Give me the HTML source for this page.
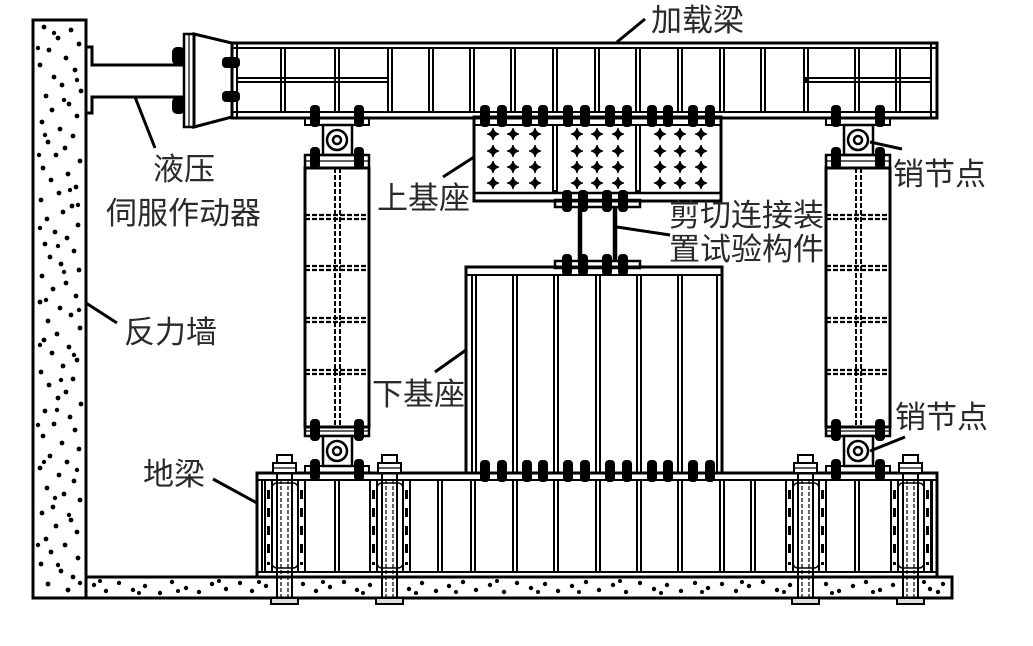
<!DOCTYPE html>
<html><head><meta charset="utf-8"><style>
html,body{margin:0;padding:0;background:#fff;}
svg{display:block;}
text{font-family:"Liberation Sans","Noto Sans CJK SC",sans-serif;font-size:31px;fill:#2a2a2a;}
</style></head><body>
<svg width="1033" height="646" viewBox="0 0 1033 646" xmlns="http://www.w3.org/2000/svg">
<defs>
<rect id="b" x="-5" y="-11" width="10" height="22" rx="4" fill="#000"/>
<path id="st" d="M0,-6 Q1,-1 6,0 Q1,1 0,6 Q-1,1 -6,0 Q-1,-1 0,-6Z" fill="#000" stroke="#000" stroke-width="1"/>
</defs>

<!-- Reaction wall and slab -->
<g fill="none" stroke="#000" stroke-width="3">
<rect x="33" y="20" width="53" height="578"/>
<rect x="86" y="577" width="866" height="21"/>
</g>
<g fill="#000">
<circle cx="44" cy="27" r="2.4"/><circle cx="71" cy="30" r="2.4"/><circle cx="58" cy="38" r="2.4"/><circle cx="79" cy="44" r="2.4"/><circle cx="49" cy="50" r="2.4"/><circle cx="66" cy="58" r="2.4"/><circle cx="40" cy="65" r="2.4"/><circle cx="75" cy="70" r="2.4"/><circle cx="54" cy="77" r="2.4"/><circle cx="62" cy="85" r="2.4"/><circle cx="81" cy="91" r="2.4"/><circle cx="46" cy="96" r="2.4"/><circle cx="69" cy="104" r="2.4"/><circle cx="52" cy="110" r="2.4"/><circle cx="77" cy="116" r="2.4"/><circle cx="42" cy="122" r="2.4"/><circle cx="60" cy="129" r="2.4"/><circle cx="73" cy="136" r="2.4"/><circle cx="48" cy="142" r="2.4"/><circle cx="65" cy="148" r="2.4"/><circle cx="56" cy="155" r="2.4"/><circle cx="80" cy="161" r="2.4"/><circle cx="43" cy="168" r="2.4"/><circle cx="68" cy="174" r="2.4"/><circle cx="51" cy="180" r="2.4"/><circle cx="76" cy="187" r="2.4"/><circle cx="59" cy="193" r="2.4"/><circle cx="41" cy="200" r="2.4"/><circle cx="72" cy="206" r="2.4"/><circle cx="63" cy="212" r="2.4"/><circle cx="47" cy="219" r="2.4"/><circle cx="78" cy="225" r="2.4"/><circle cx="55" cy="232" r="2.4"/><circle cx="67" cy="238" r="2.4"/><circle cx="45" cy="244" r="2.4"/><circle cx="74" cy="251" r="2.4"/><circle cx="50" cy="257" r="2.4"/><circle cx="61" cy="264" r="2.4"/><circle cx="79" cy="270" r="2.4"/><circle cx="42" cy="276" r="2.4"/>
<circle cx="66" cy="283" r="2.4"/><circle cx="53" cy="289" r="2.4"/><circle cx="76" cy="296" r="2.4"/><circle cx="40" cy="302" r="2.4"/><circle cx="60" cy="308" r="2.4"/><circle cx="71" cy="315" r="2.4"/><circle cx="48" cy="321" r="2.4"/><circle cx="80" cy="328" r="2.4"/><circle cx="57" cy="334" r="2.4"/><circle cx="44" cy="340" r="2.4"/><circle cx="69" cy="347" r="2.4"/><circle cx="52" cy="353" r="2.4"/><circle cx="77" cy="360" r="2.4"/><circle cx="63" cy="366" r="2.4"/><circle cx="41" cy="372" r="2.4"/><circle cx="73" cy="379" r="2.4"/><circle cx="49" cy="385" r="2.4"/><circle cx="66" cy="392" r="2.4"/><circle cx="58" cy="398" r="2.4"/><circle cx="81" cy="404" r="2.4"/><circle cx="45" cy="411" r="2.4"/><circle cx="70" cy="417" r="2.4"/><circle cx="54" cy="424" r="2.4"/><circle cx="75" cy="430" r="2.4"/><circle cx="43" cy="436" r="2.4"/><circle cx="62" cy="443" r="2.4"/><circle cx="79" cy="449" r="2.4"/><circle cx="50" cy="456" r="2.4"/><circle cx="67" cy="462" r="2.4"/><circle cx="40" cy="468" r="2.4"/><circle cx="59" cy="475" r="2.4"/><circle cx="74" cy="481" r="2.4"/><circle cx="47" cy="488" r="2.4"/><circle cx="64" cy="494" r="2.4"/><circle cx="80" cy="500" r="2.4"/><circle cx="53" cy="507" r="2.4"/><circle cx="42" cy="513" r="2.4"/><circle cx="71" cy="520" r="2.4"/><circle cx="56" cy="526" r="2.4"/><circle cx="77" cy="532" r="2.4"/><circle cx="46" cy="539" r="2.4"/><circle cx="65" cy="545" r="2.4"/><circle cx="51" cy="552" r="2.4"/><circle cx="78" cy="558" r="2.4"/><circle cx="41" cy="564" r="2.4"/><circle cx="61" cy="571" r="2.4"/><circle cx="73" cy="577" r="2.4"/><circle cx="48" cy="584" r="2.4"/><circle cx="68" cy="590" r="2.4"/>
<circle cx="54" cy="33" r="2.2"/><circle cx="77" cy="80" r="2.2"/><circle cx="45" cy="135" r="2.2"/><circle cx="70" cy="190" r="2.2"/><circle cx="58" cy="246" r="2.2"/><circle cx="46" cy="300" r="2.2"/><circle cx="74" cy="355" r="2.2"/><circle cx="57" cy="410" r="2.2"/><circle cx="44" cy="462" r="2.2"/><circle cx="69" cy="515" r="2.2"/><circle cx="58" cy="565" r="2.2"/>
<circle cx="38" cy="48" r="2.2"/><circle cx="64" cy="100" r="2.2"/><circle cx="39" cy="155" r="2.2"/><circle cx="78" cy="205" r="2.2"/><circle cx="40" cy="228" r="2.2"/><circle cx="64" cy="272" r="2.2"/><circle cx="79" cy="310" r="2.2"/><circle cx="40" cy="345" r="2.2"/><circle cx="61" cy="380" r="2.2"/><circle cx="38" cy="425" r="2.2"/><circle cx="77" cy="470" r="2.2"/><circle cx="55" cy="498" r="2.2"/><circle cx="38" cy="545" r="2.2"/><circle cx="80" cy="583" r="2.2"/>
<!-- slab dots -->
<circle cx="94" cy="585" r="2.2"/><circle cx="106" cy="591" r="2.2"/><circle cx="119" cy="583" r="2.2"/><circle cx="133" cy="590" r="2.2"/><circle cx="145" cy="586" r="2.2"/><circle cx="160" cy="593" r="2.2"/><circle cx="172" cy="582" r="2.2"/><circle cx="186" cy="588" r="2.2"/><circle cx="199" cy="592" r="2.2"/><circle cx="212" cy="584" r="2.2"/><circle cx="226" cy="589" r="2.2"/><circle cx="240" cy="583" r="2.2"/><circle cx="252" cy="591" r="2.2"/><circle cx="266" cy="586" r="2.2"/><circle cx="303" cy="584" r="2.2"/><circle cx="316" cy="591" r="2.2"/><circle cx="330" cy="587" r="2.2"/><circle cx="344" cy="582" r="2.2"/><circle cx="357" cy="590" r="2.2"/><circle cx="370" cy="585" r="2.2"/><circle cx="409" cy="589" r="2.2"/><circle cx="422" cy="583" r="2.2"/><circle cx="436" cy="591" r="2.2"/><circle cx="449" cy="586" r="2.2"/><circle cx="463" cy="582" r="2.2"/><circle cx="476" cy="590" r="2.2"/><circle cx="490" cy="585" r="2.2"/><circle cx="504" cy="592" r="2.2"/><circle cx="517" cy="583" r="2.2"/><circle cx="531" cy="588" r="2.2"/><circle cx="545" cy="584" r="2.2"/><circle cx="558" cy="591" r="2.2"/><circle cx="572" cy="586" r="2.2"/><circle cx="586" cy="582" r="2.2"/><circle cx="599" cy="590" r="2.2"/><circle cx="613" cy="585" r="2.2"/><circle cx="626" cy="592" r="2.2"/><circle cx="640" cy="583" r="2.2"/><circle cx="654" cy="589" r="2.2"/><circle cx="667" cy="585" r="2.2"/><circle cx="681" cy="591" r="2.2"/><circle cx="695" cy="583" r="2.2"/><circle cx="708" cy="588" r="2.2"/><circle cx="722" cy="584" r="2.2"/><circle cx="736" cy="591" r="2.2"/><circle cx="749" cy="586" r="2.2"/><circle cx="763" cy="582" r="2.2"/><circle cx="777" cy="590" r="2.2"/><circle cx="790" cy="585" r="2.2"/><circle cx="826" cy="584" r="2.2"/><circle cx="839" cy="591" r="2.2"/><circle cx="853" cy="586" r="2.2"/><circle cx="866" cy="582" r="2.2"/><circle cx="880" cy="590" r="2.2"/><circle cx="893" cy="585" r="2.2"/><circle cx="930" cy="589" r="2.2"/><circle cx="943" cy="584" r="2.2"/><circle cx="938" cy="592" r="2.2"/>
<circle cx="100" cy="581" r="2"/><circle cx="139" cy="593" r="2"/><circle cx="178" cy="591" r="2"/><circle cx="219" cy="581" r="2"/><circle cx="259" cy="582" r="2"/><circle cx="323" cy="582" r="2"/><circle cx="363" cy="593" r="2"/><circle cx="416" cy="593" r="2"/><circle cx="456" cy="592" r="2"/><circle cx="497" cy="581" r="2"/><circle cx="538" cy="592" r="2"/><circle cx="579" cy="592" r="2"/><circle cx="620" cy="581" r="2"/><circle cx="661" cy="593" r="2"/><circle cx="702" cy="592" r="2"/><circle cx="742" cy="582" r="2"/><circle cx="784" cy="592" r="2"/><circle cx="832" cy="593" r="2"/><circle cx="873" cy="592" r="2"/><circle cx="924" cy="582" r="2"/>
</g>

<!-- Actuator -->
<g fill="none" stroke="#000" stroke-width="3">
<path d="M86,47 H92 V65 H184 M184,97 H92 V113 H86"/>
<rect x="184" y="34" width="10" height="93" stroke-width="2.5"/>
<line x1="189" y1="34" x2="189" y2="127" stroke-width="1.2"/>
<polygon points="194,34 232,43 232,117 194,127"/>
</g>
<rect x="172" y="47" width="13" height="18" rx="5" fill="#000"/>
<rect x="172" y="97" width="13" height="17" rx="5" fill="#000"/>
<rect x="222" y="57" width="18" height="11" rx="4" fill="#000"/>
<rect x="222" y="91" width="18" height="11" rx="4" fill="#000"/>

<!-- Loading beam -->
<g fill="none" stroke="#000">
<rect x="232" y="43" width="705" height="75" stroke-width="3"/>
<line x1="232" y1="48" x2="937" y2="48" stroke-width="2"/>
<line x1="232" y1="112" x2="937" y2="112" stroke-width="2"/>
<line x1="237" y1="43" x2="237" y2="118" stroke-width="2"/>
<line x1="931" y1="43" x2="931" y2="118" stroke-width="2"/>
<rect x="237" y="78" width="151" height="4" stroke-width="2"/>
<rect x="806" y="78" width="125" height="4" stroke-width="2"/>
<g stroke-width="2">
<rect x="281" y="48" width="4" height="64"/><rect x="335" y="48" width="4" height="64"/><rect x="388" y="48" width="4" height="64"/><rect x="429" y="48" width="4" height="64"/><rect x="470" y="48" width="4" height="64"/><rect x="511" y="48" width="4" height="64"/><rect x="553" y="48" width="4" height="64"/><rect x="595" y="48" width="4" height="64"/><rect x="636" y="48" width="4" height="64"/><rect x="678" y="48" width="4" height="64"/><rect x="720" y="48" width="4" height="64"/><rect x="761" y="48" width="4" height="64"/><rect x="804" y="48" width="4" height="64"/><rect x="855" y="48" width="4" height="64"/><rect x="896" y="48" width="4" height="64"/>
</g>
</g>

<!-- Bolts -->
<g>
<use href="#b" x="315" y="116"/><use href="#b" x="359" y="116"/><use href="#b" x="836" y="116"/><use href="#b" x="880" y="116"/>
<use href="#b" x="315" y="158"/><use href="#b" x="359" y="158"/><use href="#b" x="836" y="158"/><use href="#b" x="880" y="158"/>
<use href="#b" x="315" y="430"/><use href="#b" x="359" y="430"/><use href="#b" x="836" y="430"/><use href="#b" x="880" y="430"/>
<use href="#b" x="315" y="470"/><use href="#b" x="359" y="470"/><use href="#b" x="836" y="470"/><use href="#b" x="880" y="470"/>
<use href="#b" x="485" y="116"/><use href="#b" x="502" y="116"/><use href="#b" x="527" y="116"/><use href="#b" x="543" y="116"/><use href="#b" x="568" y="116"/><use href="#b" x="585" y="116"/><use href="#b" x="610" y="116"/><use href="#b" x="627" y="116"/><use href="#b" x="652" y="116"/><use href="#b" x="668" y="116"/><use href="#b" x="693" y="116"/><use href="#b" x="710" y="116"/>
<use href="#b" x="567" y="201"/><use href="#b" x="583" y="201"/><use href="#b" x="607" y="201"/><use href="#b" x="623" y="201"/>
<use href="#b" x="567" y="265"/><use href="#b" x="583" y="265"/><use href="#b" x="607" y="265"/><use href="#b" x="623" y="265"/>
<use href="#b" x="485" y="471"/><use href="#b" x="502" y="471"/><use href="#b" x="527" y="471"/><use href="#b" x="543" y="471"/><use href="#b" x="568" y="471"/><use href="#b" x="585" y="471"/><use href="#b" x="610" y="471"/><use href="#b" x="627" y="471"/><use href="#b" x="652" y="471"/><use href="#b" x="668" y="471"/><use href="#b" x="693" y="471"/><use href="#b" x="710" y="471"/>
</g>

<!-- Columns and pins -->
<g fill="none" stroke="#000">
<g id="colL">
<rect x="305" y="118" width="64" height="7" stroke-width="2"/>
<rect x="323" y="125" width="29" height="30" stroke-width="2.5" fill="#fff"/>
<circle cx="337" cy="140" r="10" stroke-width="2.5"/>
<circle cx="337" cy="140" r="4" stroke-width="2.5"/>
<rect x="305" y="155" width="64" height="13" stroke-width="2.5"/>
<line x1="305" y1="161" x2="369" y2="161" stroke-width="1.2"/>
<rect x="305" y="168" width="64" height="259" stroke-width="3"/>
<line x1="335" y1="168" x2="335" y2="427" stroke-width="2" stroke-dasharray="5 2"/>
<line x1="340" y1="168" x2="340" y2="427" stroke-width="2" stroke-dasharray="5 2"/>
<g stroke-width="2.2" stroke-dasharray="5 2">
<line x1="305" y1="215" x2="369" y2="215"/><line x1="305" y1="219" x2="369" y2="219"/>
<line x1="305" y1="266" x2="369" y2="266"/><line x1="305" y1="270" x2="369" y2="270"/>
<line x1="305" y1="318" x2="369" y2="318"/><line x1="305" y1="322" x2="369" y2="322"/>
<line x1="305" y1="370" x2="369" y2="370"/><line x1="305" y1="374" x2="369" y2="374"/>
</g>
<rect x="305" y="427" width="64" height="9" stroke-width="2.5"/>
<line x1="305" y1="431" x2="369" y2="431" stroke-width="1.2"/>
<rect x="323" y="436" width="29" height="30" stroke-width="2.5" fill="#fff"/>
<circle cx="337" cy="451" r="10" stroke-width="2.5"/>
<circle cx="337" cy="451" r="4" stroke-width="2.5"/>
<rect x="305" y="466" width="64" height="7" stroke-width="2"/>
</g>
<use href="#colL" x="521"/>
</g>

<!-- Upper base -->
<g fill="none" stroke="#000">
<rect x="474" y="117" width="247" height="84" stroke-width="3"/>
<line x1="474" y1="125" x2="721" y2="125" stroke-width="2"/>
<line x1="474" y1="193" x2="721" y2="193" stroke-width="2.5"/>
<rect x="553" y="125" width="4" height="66" stroke-width="2"/>
<rect x="636" y="125" width="4" height="66" stroke-width="2"/>
</g>
<g>
<use href="#st" x="493" y="134"/><use href="#st" x="513" y="134"/><use href="#st" x="535" y="134"/><use href="#st" x="577" y="134"/><use href="#st" x="597" y="134"/><use href="#st" x="618" y="134"/><use href="#st" x="660" y="134"/><use href="#st" x="680" y="134"/><use href="#st" x="701" y="134"/>
<use href="#st" x="493" y="151"/><use href="#st" x="513" y="151"/><use href="#st" x="535" y="151"/><use href="#st" x="577" y="151"/><use href="#st" x="597" y="151"/><use href="#st" x="618" y="151"/><use href="#st" x="660" y="151"/><use href="#st" x="680" y="151"/><use href="#st" x="701" y="151"/>
<use href="#st" x="493" y="167"/><use href="#st" x="513" y="167"/><use href="#st" x="535" y="167"/><use href="#st" x="577" y="167"/><use href="#st" x="597" y="167"/><use href="#st" x="618" y="167"/><use href="#st" x="660" y="167"/><use href="#st" x="680" y="167"/><use href="#st" x="701" y="167"/>
<use href="#st" x="493" y="183"/><use href="#st" x="513" y="183"/><use href="#st" x="535" y="183"/><use href="#st" x="577" y="183"/><use href="#st" x="597" y="183"/><use href="#st" x="618" y="183"/><use href="#st" x="660" y="183"/><use href="#st" x="680" y="183"/><use href="#st" x="701" y="183"/>
</g>

<!-- Shear connector -->
<g fill="none" stroke="#000">
<rect x="555" y="200" width="85" height="7" stroke-width="2.5"/>
<rect x="555" y="261" width="85" height="7" stroke-width="2.5"/>
<line x1="580" y1="207" x2="580" y2="261" stroke-width="4.5"/>
<line x1="615" y1="207" x2="615" y2="261" stroke-width="4.5"/>
</g>

<!-- Lower base -->
<g fill="none" stroke="#000">
<rect x="466" y="267" width="256" height="206" stroke-width="3"/>
<line x1="466" y1="275" x2="722" y2="275" stroke-width="2"/>
<line x1="472" y1="275" x2="472" y2="473" stroke-width="2"/>
<line x1="476" y1="275" x2="476" y2="473" stroke-width="2"/>
<line x1="717" y1="275" x2="717" y2="473" stroke-width="2"/>
<g stroke-width="2">
<rect x="513" y="275" width="4" height="198"/><rect x="554" y="275" width="4" height="198"/><rect x="596" y="275" width="4" height="198"/><rect x="637" y="275" width="4" height="198"/><rect x="678" y="275" width="4" height="198"/>
</g>
</g>

<!-- Ground beam -->
<g fill="none" stroke="#000">
<rect x="257" y="473" width="680" height="104" stroke-width="3"/>
<line x1="257" y1="480" x2="937" y2="480" stroke-width="2"/>
<line x1="257" y1="572" x2="937" y2="572" stroke-width="2"/>
<line x1="262" y1="480" x2="262" y2="572" stroke-width="2"/>
<line x1="932" y1="480" x2="932" y2="572" stroke-width="2"/>
<g stroke-width="2">
<rect x="335" y="480" width="4" height="92"/><rect x="438" y="480" width="4" height="92"/><rect x="471" y="480" width="4" height="92"/><rect x="513" y="480" width="4" height="92"/><rect x="554" y="480" width="4" height="92"/><rect x="596" y="480" width="4" height="92"/><rect x="637" y="480" width="4" height="92"/><rect x="678" y="480" width="4" height="92"/><rect x="720" y="480" width="4" height="92"/><rect x="751" y="480" width="4" height="92"/><rect x="855" y="480" width="4" height="92"/>
</g>
<!-- bolt boxes with ladders -->
<g id="bx">
<line x1="265" y1="480" x2="265" y2="572" stroke-width="2"/>
<line x1="272" y1="480" x2="272" y2="572" stroke-width="2"/>
<line x1="268.5" y1="490" x2="268.5" y2="565" stroke-width="3" stroke-dasharray="9 9"/>
<line x1="298" y1="480" x2="298" y2="572" stroke-width="2"/>
<line x1="305" y1="480" x2="305" y2="572" stroke-width="2"/>
<line x1="301.5" y1="490" x2="301.5" y2="565" stroke-width="3" stroke-dasharray="9 9"/>
<rect x="272" y="483" width="26" height="85" rx="5" stroke-width="1.5"/>
<line x1="277" y1="455" x2="277" y2="604" stroke-width="2"/>
<line x1="292" y1="455" x2="292" y2="604" stroke-width="2"/>
<line x1="281" y1="480" x2="281" y2="598" stroke-width="1.2" stroke-dasharray="4 2"/>
<line x1="288" y1="480" x2="288" y2="598" stroke-width="1.2" stroke-dasharray="4 2"/>
<rect x="277" y="455" width="15" height="8" stroke-width="2" fill="#fff"/>
<rect x="273" y="463" width="23" height="10" stroke-width="2" fill="#fff"/>
<line x1="273" y1="468" x2="296" y2="468" stroke-width="1.2"/>
<rect x="271" y="598" width="27" height="6" stroke-width="2" fill="#ddd"/>
</g>
<use href="#bx" x="105"/>
<use href="#bx" x="521"/>
<use href="#bx" x="626"/>
</g>

<!-- Leader lines -->
<g stroke="#000" stroke-width="3" fill="none">
<line x1="617" y1="42" x2="645" y2="19"/>
<line x1="135" y1="97" x2="155" y2="148"/>
<line x1="86" y1="303" x2="117" y2="323"/>
<line x1="213" y1="479" x2="257" y2="503"/>
<line x1="443" y1="177" x2="474" y2="157"/>
<line x1="435" y1="372" x2="466" y2="350"/>
<line x1="617" y1="227" x2="670" y2="235"/>
<line x1="870" y1="142" x2="902" y2="149"/>
<line x1="870" y1="451" x2="905" y2="437"/>
</g>

<!-- Labels -->
<text x="651" y="31">加载梁</text>
<text x="153" y="180">液压</text>
<text x="106" y="224">伺服作动器</text>
<text x="124" y="343">反力墙</text>
<text x="143" y="485">地梁</text>
<text x="377" y="209">上基座</text>
<text x="372" y="405">下基座</text>
<text x="669" y="226">剪切连接装</text>
<text x="669" y="260">置试验构件</text>
<text x="893" y="185">销节点</text>
<text x="895" y="428">销节点</text>
</svg>
</body></html>
